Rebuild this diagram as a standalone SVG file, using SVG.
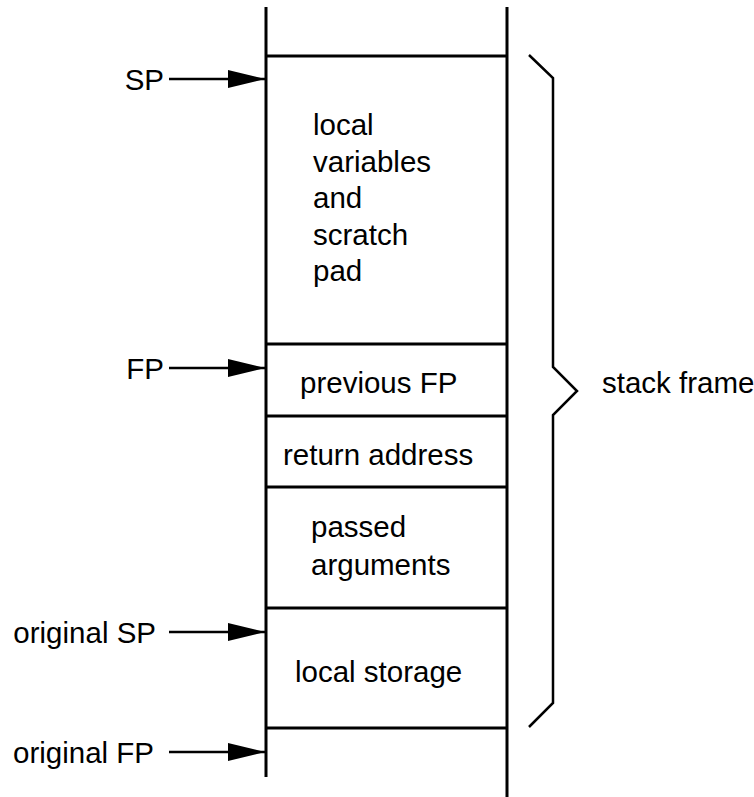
<svg xmlns="http://www.w3.org/2000/svg" width="754" height="797" viewBox="0 0 754 797">
<defs>
<marker id="ah" markerUnits="userSpaceOnUse" markerWidth="38" markerHeight="20" refX="37" refY="10" orient="auto" viewBox="0 0 38 20">
<polygon points="0,1 37,10 0,19" fill="#000"/>
</marker>
</defs>
<style>
text{font-family:"Liberation Sans",Arial,sans-serif;font-size:29.5px;fill:#000}
.wall{stroke:#000;stroke-width:3;fill:none}
.conn{stroke:#000;stroke-width:2.5;fill:none}
.brace{stroke:#000;stroke-width:2.5;fill:none;stroke-linejoin:miter}
.e{text-anchor:end}
</style>
<rect width="754" height="797" fill="#fff"/>
<g id="stack">
<line class="wall" x1="266" y1="7" x2="266" y2="777"/>
<line class="wall" x1="507" y1="7" x2="507" y2="797"/>
<line class="wall" x1="266" y1="56" x2="507" y2="56"/>
<line class="wall" x1="266" y1="344" x2="507" y2="344"/>
<line class="wall" x1="266" y1="416" x2="507" y2="416"/>
<line class="wall" x1="266" y1="487" x2="507" y2="487"/>
<line class="wall" x1="266" y1="608" x2="507" y2="608"/>
<line class="wall" x1="266" y1="728" x2="507" y2="728"/>
</g>
<g id="local-vars">
<text x="313" y="135">local</text>
<text x="313" y="171.5">variables</text>
<text x="313" y="208">and</text>
<text x="313" y="244.5">scratch</text>
<text x="313" y="281">pad</text>
</g>
<g id="prev-fp"><text x="300" y="393">previous FP</text></g>
<g id="ret-addr"><text x="283" y="465">return address</text></g>
<g id="passed-args">
<text x="311" y="537">passed</text>
<text x="311" y="575">arguments</text>
</g>
<g id="local-storage"><text x="295" y="682">local storage</text></g>
<g id="sp-label"><text class="e" x="164" y="90">SP</text></g>
<g id="fp-label"><text class="e" x="164" y="379">FP</text></g>
<g id="osp-label"><text class="e" x="156" y="643">original SP</text></g>
<g id="ofp-label"><text class="e" x="154" y="763">original FP</text></g>
<g id="stack-frame">
<path class="brace" d="M529,55 L553,78 L553,367 L577,391 L553,415 L553,703 L529,727"/>
<text x="602" y="393">stack frame</text>
</g>
<g id="connectors">
<line class="conn" x1="169" y1="79" x2="265" y2="79" marker-end="url(#ah)"/>
<line class="conn" x1="169" y1="368" x2="265" y2="368" marker-end="url(#ah)"/>
<line class="conn" x1="169" y1="632" x2="265" y2="632" marker-end="url(#ah)"/>
<line class="conn" x1="169" y1="752" x2="265" y2="752" marker-end="url(#ah)"/>
</g>
</svg>
